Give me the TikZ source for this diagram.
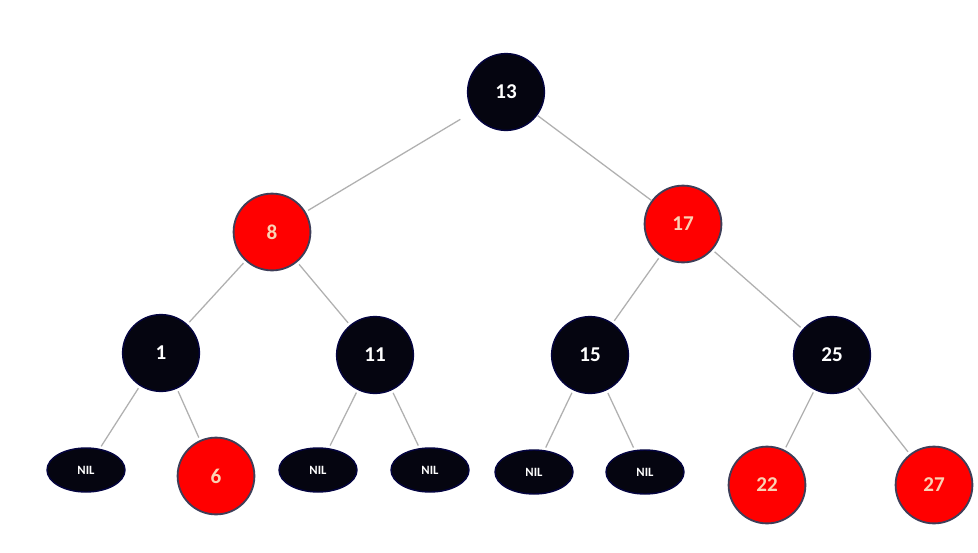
\documentclass[tikz,border=0pt]{standalone}
\usepackage{fontspec}
\setmainfont{Carlito}
\usetikzlibrary{shapes.geometric}
\definecolor{rbred}{HTML}{FF0000}
\definecolor{rbblack}{HTML}{050510}
\definecolor{rbedge}{HTML}{B0B0B0}
\definecolor{rbtext}{HTML}{FAD2B4}
\definecolor{rbrim}{HTML}{3E3E58}
\tikzset{
	blacknode/.style={circle, fill=rbblack, draw=rbblack!80!blue, line width=1pt, minimum size=1.92cm, inner sep=0pt, text=white, font=\fontsize{15}{15}\selectfont\bfseries},
	rednode/.style={circle, fill=rbred, draw=rbrim, line width=1.3pt, minimum size=1.92cm, inner sep=0pt, text=rbtext, font=\fontsize{15}{15}\selectfont\bfseries},
	nilnode/.style={ellipse, fill=rbblack, draw=rbblack!80!blue, line width=1pt, minimum width=1.95cm, minimum height=1.1cm, inner sep=0pt, text=white, font=\fontsize{9}{9}\selectfont\bfseries},
	edge/.style={draw=rbedge, line width=0.9pt, shorten <=2pt, shorten >=2pt}
}

\begin{document}
\begin{tikzpicture}[x=0.025cm, y=-0.025cm]
			\useasboundingbox[fill=white] (0, 0) rectangle (978, 552);
			% level 0
			\node[blacknode] (n13) at (506, 92){13};
			% level 1
			\node[rednode] (n8) at (272, 232){8};
			\node[rednode] (n17) at (683, 224){17};
			% level 2
			\node[blacknode] (n1) at (161, 353){1};
			\node[blacknode] (n11) at (375, 355){11};
			\node[blacknode] (n15) at (590, 355){15};
			\node[blacknode] (n25) at (832, 355){25};
			% level 3
			\node[nilnode] (nilA) at (86, 470){NIL};
			\node[rednode] (n6) at (216, 476){6};
			\node[nilnode] (nilB) at (318, 470){NIL};
			\node[nilnode] (nilC) at (430, 470){NIL};
			\node[nilnode] (nilD) at (534, 472){NIL};
			\node[nilnode] (nilE) at (645, 472){NIL};
			\node[rednode] (n22) at (767, 485){22};
			\node[rednode] (n27) at (934, 485){27};
			% connectors
			\draw[edge, shorten <=10pt] (n13) -- (n8);
			\draw[edge, shorten <=0pt, shorten >=0pt] (n13) -- (n17);
			\draw[edge] (n8) -- (n1);
			\draw[edge] (n8) -- (n11);
			\draw[edge] (n17) -- (n15);
			\draw[edge] (n17) -- (n25);
			\draw[edge] (n1) -- (nilA);
			\draw[edge] (n1) -- (n6);
			\draw[edge] (n11) -- (nilB);
			\draw[edge] (n11) -- (nilC);
			\draw[edge] (n15) -- (nilD);
			\draw[edge] (n15) -- (nilE);
			\draw[edge] (n25) -- (n22);
			\draw[edge] (n25) -- (n27);
		\end{tikzpicture}
\end{document}
